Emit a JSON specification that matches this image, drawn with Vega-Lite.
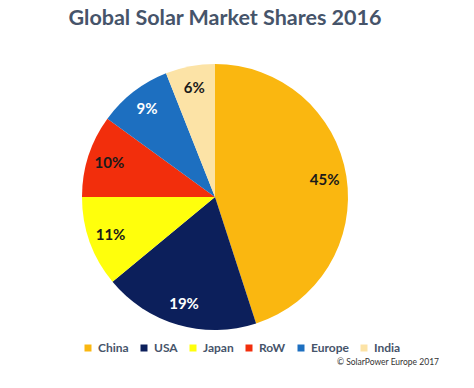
{
  "$schema": "https://vega.github.io/schema/vega-lite/v6.json",
  "autosize": "pad",
  "padding": {"left": 68, "top": 7, "right": 0, "bottom": 0},
  "background": "white",
  "title": {
    "text": "© SolarPower Europe 2017",
    "orient": "bottom",
    "anchor": "end",
    "font": "Lato",
    "fontSize": 8.5,
    "fontWeight": "normal",
    "color": "#333333",
    "offset": 4,
    "dx": 38
  },
  "data": {
    "values": [
      {"country": "China", "share": 0.45, "rank": 1},
      {"country": "USA", "share": 0.19, "rank": 2},
      {"country": "Japan", "share": 0.11, "rank": 3},
      {"country": "RoW", "share": 0.10, "rank": 4},
      {"country": "Europe", "share": 0.09, "rank": 5},
      {"country": "India", "share": 0.06, "rank": 6}
    ]
  },
  "vconcat": [
    {
      "width": 266,
      "height": 266,
      "title": {
        "text": "Global Solar Market Shares 2016",
        "font": "Lato",
        "fontSize": 21.5,
        "fontWeight": "bold",
        "color": "#46546A",
        "anchor": "middle",
        "dx": 10,
        "offset": 35
      },
      "encoding": {
        "theta": {"field": "share", "type": "quantitative", "stack": true},
        "order": {"field": "rank", "type": "quantitative"}
      },
      "layer": [
        {
          "mark": {"type": "arc", "outerRadius": 133},
          "encoding": {
            "color": {
              "field": "country",
              "type": "nominal",
              "sort": ["China", "USA", "Japan", "RoW", "Europe", "India"],
              "scale": {
                "domain": ["China", "USA", "Japan", "RoW", "Europe", "India"],
                "range": ["#FAB710", "#0C1F5B", "#FFFF0C", "#F22E0C", "#1D6FC0", "#FCE3A6"]
              },
              "legend": {
                "orient": "bottom",
                "direction": "horizontal",
                "title": null,
                "symbolType": "square",
                "symbolSize": 49,
                "symbolStrokeWidth": 0,
                "labelFont": "Lato",
                "labelFontSize": 12,
                "labelFontWeight": "bold",
                "labelColor": "#46546A",
                "labelOffset": 4,
                "columnPadding": 9,
                "offset": 12
              }
            }
          }
        },
        {
          "mark": {"type": "text", "radius": 111, "font": "Lato", "fontSize": 15, "fontWeight": "bold"},
          "encoding": {
            "text": {"field": "share", "type": "quantitative", "format": ".0%"},
            "color": {
              "condition": {"test": "datum.country === 'USA' || datum.country === 'Europe'", "value": "#FFFFFF"},
              "value": "#1A1A1A"
            }
          }
        }
      ]
    }
  ]
}
